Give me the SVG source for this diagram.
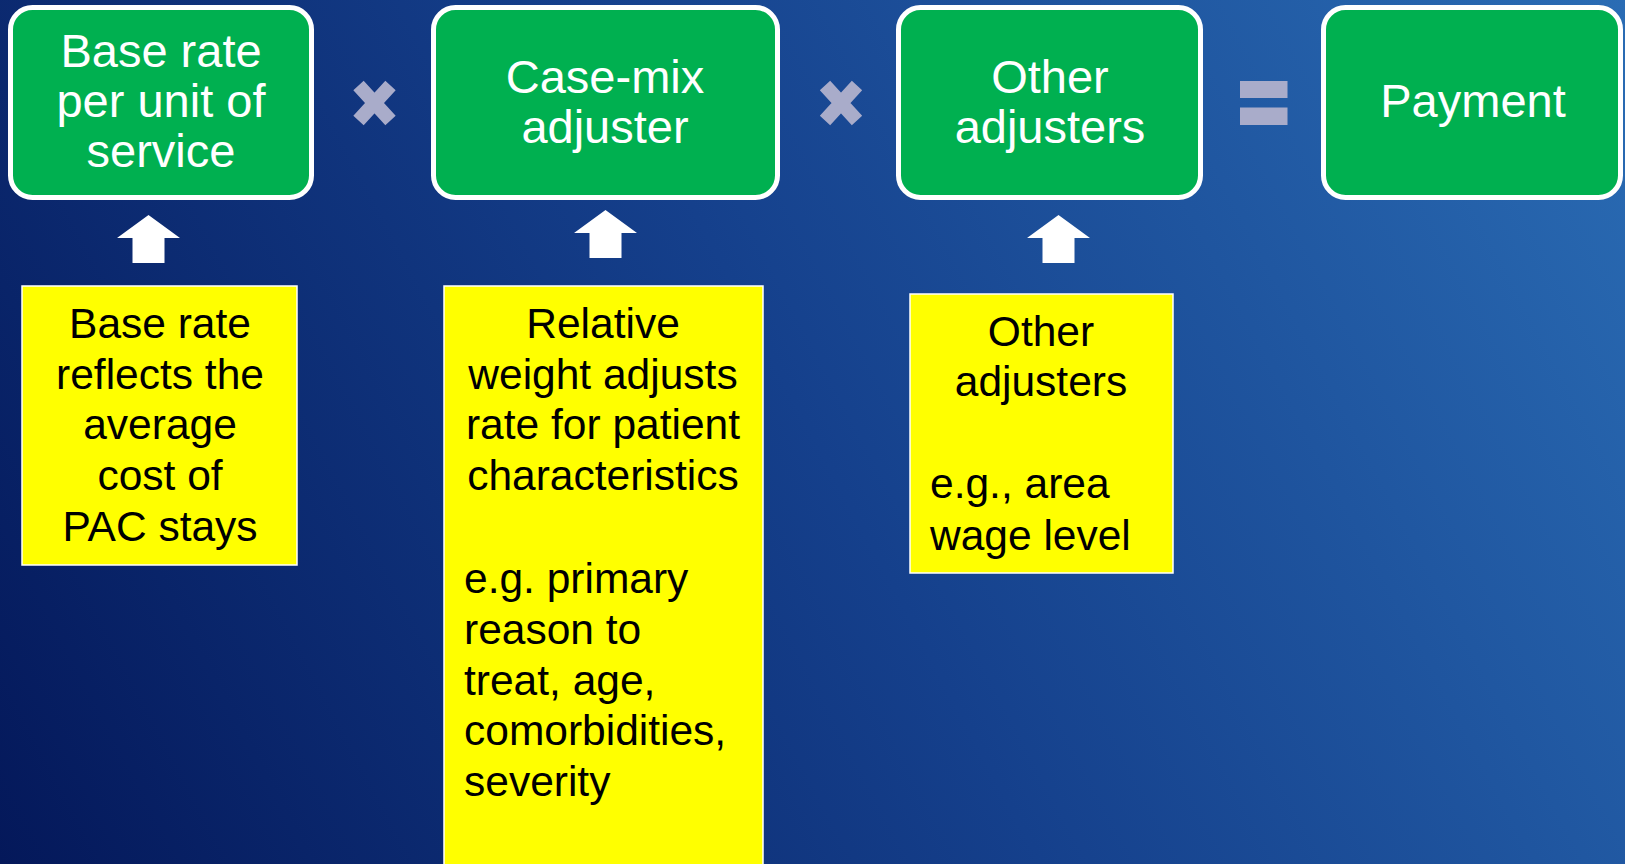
<svg xmlns="http://www.w3.org/2000/svg" width="1625" height="864" viewBox="0 0 1625 864">
  <defs>
    <linearGradient id="bg" gradientUnits="userSpaceOnUse" x1="0" y1="864" x2="1625" y2="0">
      <stop offset="0" stop-color="#04185a"/>
      <stop offset="0.5" stop-color="#15408c"/>
      <stop offset="1" stop-color="#2a6cb4"/>
    </linearGradient>
    <!-- thick "times" sign, centred on 0,0 -->
    <g id="times">
      <path d="M-16,-17.5 L16,17.5 M16,-17.5 L-16,17.5" stroke="#a9acca" stroke-width="14" fill="none"/>
    </g>
    <!-- block up-arrow, tip at 0,0 -->
    <polygon id="uparrow" points="0,0 31.5,23 16,23 16,48 -16,48 -16,23 -31.5,23" fill="#ffffff"/>
  </defs>
  <style>
    .term { fill: #00b050; stroke: #ffffff; stroke-width: 5; }
    .term-text { font-family: "Liberation Sans", Arial, sans-serif; font-size: 47px; fill: #ffffff; text-anchor: middle; }
    .note { fill: #ffff00; stroke: #ffffff; stroke-width: 1.5; }
    .note-text { font-family: "Liberation Sans", Arial, sans-serif; font-size: 42.5px; fill: #000000; }
    .c { text-anchor: middle; }
  </style>

  <rect x="0" y="0" width="1625" height="864" fill="url(#bg)"/>

  <!-- formula terms -->
  <g id="base-rate">
    <rect class="term" x="10.5" y="7.5" width="301" height="190" rx="22"/>
    <text class="term-text" x="161" y="67">Base rate</text>
    <text class="term-text" x="161" y="117">per unit of</text>
    <text class="term-text" x="161" y="167">service</text>
  </g>
  <g id="case-mix">
    <rect class="term" x="433.5" y="7.5" width="344" height="190" rx="22"/>
    <text class="term-text" x="605" y="93">Case-mix</text>
    <text class="term-text" x="605" y="143">adjuster</text>
  </g>
  <g id="other-adjusters">
    <rect class="term" x="898.5" y="7.5" width="302" height="190" rx="22"/>
    <text class="term-text" x="1050" y="93">Other</text>
    <text class="term-text" x="1050" y="143">adjusters</text>
  </g>
  <g id="payment">
    <rect class="term" x="1323.5" y="7.5" width="297" height="190" rx="22"/>
    <text class="term-text" x="1473" y="117">Payment</text>
  </g>

  <!-- operators -->
  <g id="operators">
    <use href="#times" x="374.5" y="103"/>
    <use href="#times" x="841" y="103"/>
    <rect x="1240" y="81" width="47.5" height="17" fill="#a9acca"/>
    <rect x="1240" y="107.5" width="47.5" height="17.5" fill="#a9acca"/>
  </g>

  <!-- explanatory notes -->
  <g id="base-rate-note">
    <rect class="note" x="22" y="286" width="275" height="279"/>
    <text class="note-text c" x="160" y="338">Base rate</text>
    <text class="note-text c" x="160" y="389">reflects the</text>
    <text class="note-text c" x="160" y="439">average</text>
    <text class="note-text c" x="160" y="490">cost of</text>
    <text class="note-text c" x="160" y="541">PAC stays</text>
  </g>
  <g id="case-mix-note">
    <rect class="note" x="444" y="286" width="319" height="590"/>
    <text class="note-text c" x="603" y="338">Relative</text>
    <text class="note-text c" x="603" y="389">weight adjusts</text>
    <text class="note-text c" x="603" y="439">rate for patient</text>
    <text class="note-text c" x="603" y="490">characteristics</text>
    <text class="note-text" x="464" y="593">e.g. primary</text>
    <text class="note-text" x="464" y="644">reason to</text>
    <text class="note-text" x="464" y="695">treat, age,</text>
    <text class="note-text" x="464" y="745">comorbidities,</text>
    <text class="note-text" x="464" y="796">severity</text>
  </g>
  <g id="other-adjusters-note">
    <rect class="note" x="910" y="294" width="263" height="279"/>
    <text class="note-text c" x="1041" y="346">Other</text>
    <text class="note-text c" x="1041" y="396">adjusters</text>
    <text class="note-text" x="930" y="498">e.g., area</text>
    <text class="note-text" x="930" y="550">wage level</text>
  </g>

  <!-- connectors: notes feed the terms above -->
  <g id="connectors">
    <use href="#uparrow" x="148.5" y="215"/>
    <use href="#uparrow" x="605.5" y="210"/>
    <use href="#uparrow" x="1058.5" y="215"/>
  </g>
</svg>
